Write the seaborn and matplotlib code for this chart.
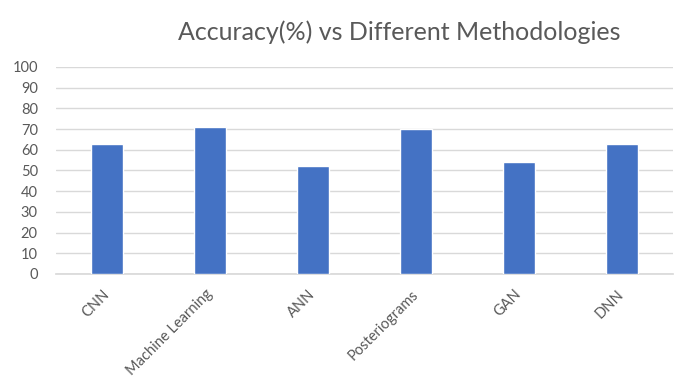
import matplotlib
matplotlib.use("Agg")
import matplotlib.pyplot as plt
import seaborn as sns
import pandas as pd

categories = ["CNN", "Machine Learning", "ANN", "Posteriograms", "GAN", "DNN"]
accuracy = [63, 71, 52, 70, 54, 63]
yticks = [0, 10, 20, 30, 40, 50, 60, 70, 80, 90, 100]
title = "Accuracy(%) vs Different Methodologies"

sns.set_theme(style="white")
plt.rcParams['font.family'] = ['Lato', 'DejaVu Sans']

df = pd.DataFrame({"Method": categories, "Accuracy": accuracy})

fig = plt.figure(figsize=(6.89, 3.87), dpi=100)
ax = fig.add_axes([0.081, 0.292, 0.896, 0.535])

sns.barplot(data=df, x="Method", y="Accuracy", color="#4472C4",
            width=0.31, saturation=1, ax=ax, zorder=3)

ax.set_ylim(0, 100)
ax.set_yticks(yticks)
ax.set_yticklabels([str(t) for t in yticks], color="#595959", fontsize=10.5)
ax.yaxis.grid(True, color="#d9d9d9", linewidth=1, zorder=0)
ax.set_axisbelow(True)
ax.tick_params(axis="y", length=0, pad=13)
ax.tick_params(axis="x", length=0, pad=13)
for lbl in ax.get_xticklabels():
    lbl.set_rotation(45)
    lbl.set_ha("right")
    lbl.set_va("center")
    lbl.set_rotation_mode("anchor")
    lbl.set_color("#595959")
    lbl.set_fontsize(10.5)
for s in ["top", "right", "left"]:
    ax.spines[s].set_visible(False)
ax.spines["bottom"].set_color("#d9d9d9")
ax.set_xlabel("")
ax.set_ylabel("")

fig.text(0.579, 0.917, title, ha="center", va="center",
         fontsize=18, color="#595959")

fig.savefig("out.png", dpi=100)
